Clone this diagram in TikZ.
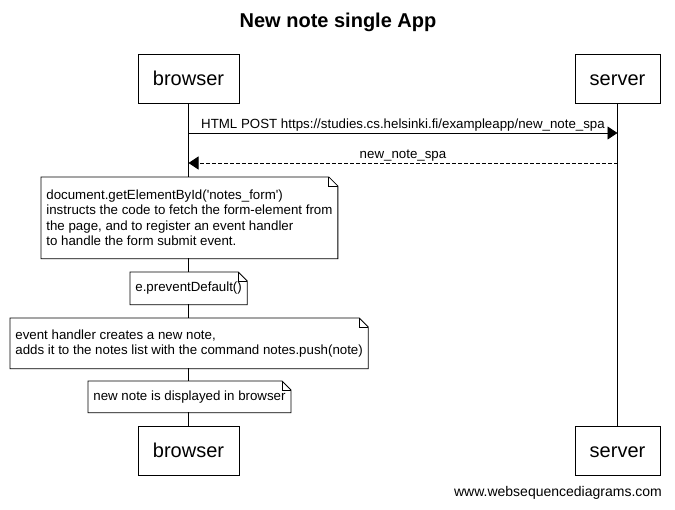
\documentclass[tikz,border=0pt]{standalone}
\usepackage{fontspec}
\setmainfont{Liberation Sans}
\usetikzlibrary{arrows.meta}

\tikzset{
    every path/.style={line width=0.8pt},
    actor/.style={draw, fill=white, inner sep=0pt, text height=15pt, text depth=2pt, minimum height=49pt, font=\fontsize{20}{24}\selectfont},
    notebox/.style={fill=white, anchor=north west, inner xsep=5pt, inner ysep=0pt, align=left, font=\fontsize{13.3}{15.4}\selectfont},
    msg/.style={-{Triangle[length=10pt, width=13pt]}},
    reply/.style={msg, dash pattern=on 4pt off 2pt},
    lbl/.style={above, inner sep=1pt, font=\fontsize{13.3}{15.4}\selectfont}
}

% folded corner round a note node
\newcommand{\dogear}[1]{%
    \draw (#1.north west) -- ([xshift=-9pt]#1.north east) -- ([yshift=-9pt]#1.north east) -- (#1.south east) -- (#1.south west) -- cycle;
    \draw ([xshift=-9pt]#1.north east) |- ([yshift=-9pt]#1.north east);
}

\begin{document}
\begin{tikzpicture}[x=1pt, y=-1pt]
    \useasboundingbox (0,0) rectangle (675,509);

    \node[font=\fontsize{20}{24}\selectfont\bfseries] (title) at (338, 22) {New note single App};

    \node[actor, minimum width=101pt] (bTop) at (188.5, 78.5) {browser};
    \node[actor, minimum width=85pt] (sTop) at (617.5, 78.5) {server};
    \node[actor, minimum width=101pt] (bBot) at (188.5, 450.5) {browser};
    \node[actor, minimum width=85pt] (sBot) at (617.5, 450.5) {server};

    % lifelines
    \draw (bTop) -- (bBot);
    \draw (sTop) -- (sBot);

    \coordinate (b1) at (188.5, 133);
    \coordinate (s1) at (617.5, 133);
    \coordinate (b2) at (188.5, 163);
    \coordinate (s2) at (617.5, 163);
    \draw[msg] (b1) -- (s1) node[lbl, midway] {HTML POST https://studies.cs.helsinki.fi/exampleapp/new\_note\_spa};
    \draw[reply] (s2) -- (b2) node[lbl, midway] {new\_note\_spa};

    \node[notebox, minimum width=294pt, minimum height=81pt] (formNote) at (41, 177) {document.getElementById(\textquotesingle notes\_form\textquotesingle)\\instructs the code to fetch the form-element from\\the page, and to register an event handler\\to handle the form submit event.};
    \dogear{formNote}

    \node[notebox, minimum width=116pt, minimum height=32pt] (preventNote) at (130, 272) {e.preventDefault()};
    \dogear{preventNote}

    \node[notebox, minimum width=357pt, minimum height=50pt] (pushNote) at (10, 318) {event handler creates a new note,\\adds it to the notes list with the command notes.push(note)};
    \dogear{pushNote}

    \node[notebox, minimum width=202pt, minimum height=31pt] (shownNote) at (88, 381) {new note is displayed in browser};
    \dogear{shownNote}

    \node[font=\fontsize{14}{17}\selectfont] (footer) at (558, 493) {www.websequencediagrams.com};
\end{tikzpicture}
\end{document}
